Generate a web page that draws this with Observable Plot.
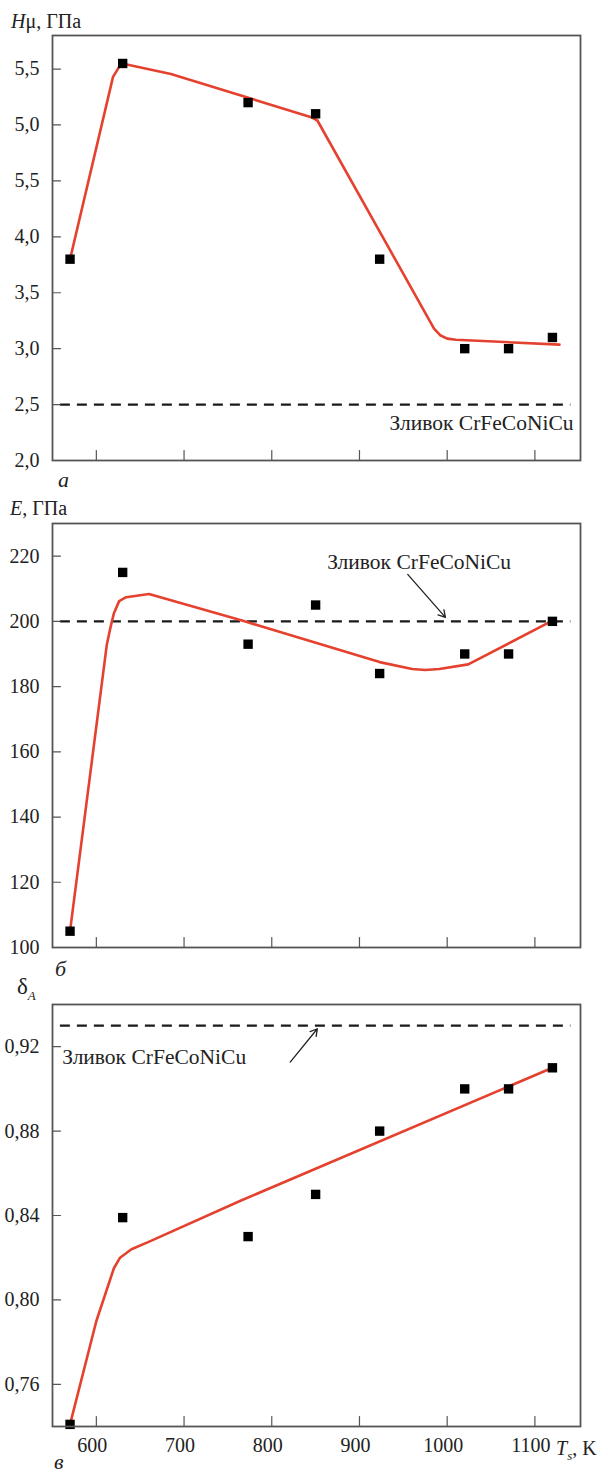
<!DOCTYPE html>
<html>
<head>
<meta charset="utf-8">
<script src="https://cdn.jsdelivr.net/npm/d3@7"></script>
<script src="https://cdn.jsdelivr.net/npm/@observablehq/plot@0.6"></script>
<style>
  html, body { margin: 0; padding: 0; background: #fff; }
  #wrap { position: relative; width: 608px; height: 1472px; font-family: "Liberation Serif", "Times New Roman", "DejaVu Serif", serif; color: #222; }
  #wrap svg { position: absolute; left: 0; }
  .lbl { position: absolute; font-size: 20px; white-space: nowrap; line-height: 1; }
  .it { font-style: italic; }
</style>
</head>
<body>
<div id="wrap">
  <div class="lbl" style="left:11px; top:11px;"><span class="it">H</span>μ, ГПа</div>
  <div class="lbl it" style="left:58px; top:469px; font-size:22px;">а</div>
  <div class="lbl" style="left:10px; top:498px;"><span class="it">E</span>, ГПа</div>
  <div class="lbl it" style="left:55px; top:958px; font-size:22px;">б</div>
  <div class="lbl" style="left:17px; top:975px; font-size:23px;">δ<sub class="it" style="font-size:13px;">A</sub></div>
  <div class="lbl it" style="left:54px; top:1451px; font-size:22px;">в</div>
  <div class="lbl" style="left:556px; top:1438px;"><span class="it">T</span><sub class="it" style="font-size:13px;">s</sub>, K</div>
</div>
<script>
// ---- data ----
const xDomain = [550, 1152];
const xTicks = [600, 700, 800, 900, 1000, 1100];
const temps = [570, 630, 773, 850, 923, 1020, 1070, 1120];

const hardness = [3.8, 5.55, 5.2, 5.1, 3.8, 3.0, 3.0, 3.1];
const modulus = [105, 215, 193, 205, 184, 190, 190, 200];
const deltaA = [0.741, 0.839, 0.83, 0.85, 0.88, 0.90, 0.90, 0.91];

const fitHx = [570, 619, 626, 632, 685, 845, 852, 985, 992, 1000, 1010, 1128];
const fitHy = [3.8, 5.43, 5.52, 5.545, 5.455, 5.07, 5.04, 3.18, 3.12, 3.09, 3.08, 3.036];
const fitEx = [570, 612, 616, 620, 626, 634, 660, 769, 923, 960, 975, 991, 1024, 1120];
const fitEy = [105, 193, 198, 202.5, 206.2, 207.4, 208.4, 200, 187.5, 185.4, 185.1, 185.4, 186.8, 200.2];
const fitDx = [570, 600, 620, 627, 640, 659, 765, 1120];
const fitDy = [0.741, 0.790, 0.8150, 0.8200, 0.8240, 0.8274, 0.8471, 0.910];

const ingotLabel = "Зливок CrFeCoNiCu";
const ingotH = 2.5, ingotE = 200, ingotD = 0.93;
const refLineX = [559, 1141];

const yTicksH = [2.0, 2.5, 3.0, 3.5, 4.0, 4.5, 5.0, 5.5];
const yLabelsH = ["2,0", "2,5", "3,0", "3,5", "4,0", "5,5", "5,0", "5,5"];
const yTicksE = [100, 120, 140, 160, 180, 200, 220];
const yLabelsE = ["100", "120", "140", "160", "180", "200", "220"];
const yTicksD = [0.76, 0.80, 0.84, 0.88, 0.92];
const yLabelsD = ["0,76", "0,80", "0,84", "0,88", "0,92"];

// annotation anchors (data units)
const labelH = {x: 1144, y: 2.33};
const labelE = {x: 968, y: 218.1};
const arrowE = {x1: 955, y1: 214.4, x2: 998, y2: 201.2};
const labelD = {x: 561, y: 0.9149};
const arrowD = {x1: 821, y1: 0.9127, x2: 852, y2: 0.9285};

// ---- helpers ----
const RED = "#e5412f";
const FONT = "'Liberation Serif', 'Times New Roman', 'DejaVu Serif', serif";
const tickShape = {draw(ctx, l) { ctx.moveTo(0, 0); ctx.lineTo(0, -l); }};
const pts = (xs, ys) => xs.map((x, i) => ({x, y: ys[i]}));

function panel({top, height, mt, mb, yDomain, yTicks, yLabels, values, fx, fy, ref, extras, xLabels}) {
  const lab = new Map(yTicks.map((t, i) => [t, yLabels[i]]));
  const marks = [
    Plot.ruleY([ref], {x1: refLineX[0], x2: refLineX[1], stroke: "#1a1a1a", strokeWidth: 2.2, strokeDasharray: "10,7"}),
    Plot.line(pts(fx, fy), {x: "x", y: "y", stroke: RED, strokeWidth: 2.6, curve: "linear", strokeLinejoin: "round"}),
    Plot.dot(pts(temps, values), {x: "x", y: "y", symbol: "square", r: 5.3, fill: "#000", stroke: null}),
    Plot.vector(xTicks, {x: d => d, frameAnchor: "bottom", length: 10, anchor: "start", rotate: 0, shape: tickShape, stroke: "#555", strokeWidth: 1.2}),
    Plot.vector(yTicks, {y: d => d, frameAnchor: "left", length: 8, anchor: "start", rotate: 90, shape: tickShape, stroke: "#555", strokeWidth: 1.2}),
    Plot.axisY({ticks: yTicks, tickSize: 0, tickPadding: 13, tickFormat: d => lab.get(d), fontSize: 20, label: null}),
    ...extras,
    Plot.frame({stroke: "#555", strokeWidth: 1.8})
  ];
  if (xLabels) marks.push(Plot.axisX({ticks: xTicks, tickSize: 0, tickPadding: 11, dx: -4, tickFormat: d => String(d), fontSize: 20, label: null}));
  const svg = Plot.plot({
    width: 608, height,
    marginLeft: 52, marginRight: 28, marginTop: mt, marginBottom: mb,
    x: {domain: xDomain, axis: null},
    y: {domain: yDomain, axis: null},
    style: {fontFamily: FONT, fontSize: "20px", color: "#222", background: "transparent", overflow: "visible"},
    marks
  });
  svg.style.top = top + "px";
  document.getElementById("wrap").appendChild(svg);
}

panel({
  top: 0, height: 500, mt: 35, mb: 40,
  yDomain: [2.0, 5.8], yTicks: yTicksH, yLabels: yLabelsH,
  values: hardness, fx: fitHx, fy: fitHy, ref: ingotH,
  extras: [Plot.text([labelH], {x: "x", y: "y", text: () => ingotLabel, textAnchor: "end", fontSize: 21.5, fill: "#222"})]
});

panel({
  top: 500, height: 460, mt: 23, mb: 13,
  yDomain: [100, 230], yTicks: yTicksE, yLabels: yLabelsE,
  values: modulus, fx: fitEx, fy: fitEy, ref: ingotE,
  extras: [
    Plot.text([labelE], {x: "x", y: "y", text: () => ingotLabel, fontSize: 21.5, fill: "#222"}),
    Plot.arrow([arrowE], {x1: "x1", y1: "y1", x2: "x2", y2: "y2", stroke: "#222", strokeWidth: 1.3, headLength: 9})
  ]
});

panel({
  top: 960, height: 512, mt: 44, mb: 46,
  yDomain: [0.74, 0.94], yTicks: yTicksD, yLabels: yLabelsD,
  values: deltaA, fx: fitDx, fy: fitDy, ref: ingotD, xLabels: true,
  extras: [
    Plot.text([labelD], {x: "x", y: "y", text: () => ingotLabel, textAnchor: "start", fontSize: 21.5, fill: "#222"}),
    Plot.arrow([arrowD], {x1: "x1", y1: "y1", x2: "x2", y2: "y2", stroke: "#222", strokeWidth: 1.3, headLength: 9})
  ]
});
</script>
</body>
</html>
